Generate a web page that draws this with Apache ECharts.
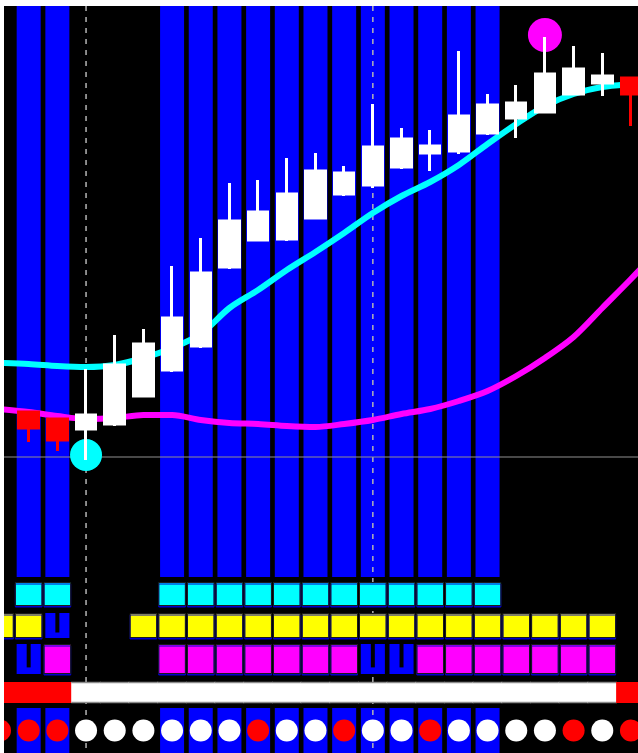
<!DOCTYPE html>
<html><head><meta charset="utf-8">
<script src="https://cdn.jsdelivr.net/npm/echarts@6/dist/echarts.min.js"></script>
<style>
html,body{margin:0;padding:0;background:#fff;width:638px;height:753px;overflow:hidden}
#c{position:absolute;left:4px;top:6px;width:634px;height:747px;background:#000}
</style></head><body><div id="c"></div>
<script>
// ---------- data ----------
const categories = ['01','02','03','04','05','06','07','08','09','10','11','12','13','14','15','16','17','18','19','20','21','22','23','24'];
// [open, close, low, high]
const candles = [
  ['-','-','-','-'],
  [165,149,135,165],
  [158,137,126,158],
  [148,162,117,208],
  [153,212,151,242],
  [181,233,180,248],
  [207,259,205,311],
  [231,304,229,339],
  [310,356,308,394],
  [337,365,336,397],
  [338,383,336,419],
  [359,406,358,424],
  [383,404,381,411],
  [392,430,389,473],
  [410,438,408,449],
  [424,431,406,447],
  [426,461,423,526],
  [444,472,442,483],
  [459,474,439,492],
  [465,503,464,540],
  [483,508,482,531],
  [494,501,481,524],
  [499,483,451,499],
  ['-','-','-','-']
];
const maFast = [214,213,211,210,212,219,229,243,269,287,307,325,344,364,381,395,412,433,453,471,483,490,493,495];
const maSlow = [168,165,161,158,159,162,162,157,154,153,151,150,153,157,163,168,176,186,201,219,240,269,298,328];
const bandCols = [0,1,1,0,0,0,1,1,1,1,1,1,1,1,1,1,1,1,0,0,0,0,0,0];
const cyanRow    = ['','C','C','','','','C','C','C','C','C','C','C','C','C','C','C','C','','','','','',''];
const yellowRow  = ['Y','Y','U','','','Y','Y','Y','Y','Y','Y','Y','Y','Y','Y','Y','Y','Y','Y','Y','Y','Y','',''];
const magentaRow = ['','U','M','','','','M','M','M','M','M','M','M','U','U','M','M','M','M','M','M','M','',''];
const trendRow   = ['R','R','R','W','W','W','W','W','W','W','W','W','W','W','W','W','W','W','W','W','W','W','R','R'];
const dotRow     = ['R','R','R','W','W','W','W','W','W','R','W','W','R','W','W','R','W','W','W','W','R','W','R',''];
const buySignal = [['04', 122]];
const sellSignal = [['20', 542]];
const levelLine = [120];
const cursorCols = [3, 13];
const mainMax = 571;

// ---------- layout ----------
const P = 28.68;
const N = categories.length;
const gridLeft = -4 - P / 2;
const gridWidth = N * P;
const gridDefs = [[0, 571], [576, 24], [607, 25], [638, 30], [676, 21], [702, 45], [0, 747]];
const grid = gridDefs.map(d => ({left: gridLeft, width: gridWidth, top: d[0], height: d[1], show: false, outerBoundsMode: 'none', containLabel: false}));
const xAxis = gridDefs.map((d, i) => ({type: 'category', gridIndex: i, data: categories, show: false, boundaryGap: true}));
const yAxis = gridDefs.map((d, i) => ({type: 'value', gridIndex: i, min: 0, max: i === 0 ? mainMax : 1, show: false, splitLine: {show: false}}));

const cellColors = ['#00ffff', '#ffff00', '#ff00ff'];
function rowSeries(row, gi) {
  const data = [];
  row.forEach((t, i) => { if (t) data.push([i, 'CYMU'.indexOf(t)]); });
  return {
    type: 'custom', xAxisIndex: gi, yAxisIndex: gi, z: 3, silent: true, data,
    renderItem: (params, api) => {
      const i = api.value(0), k = api.value(1);
      const a = api.coord([i, 1]), b = api.coord([i, 0]);
      const bw = api.size([1, 0])[0];
      const h = b[1] - a[1], cx = a[0];
      if (k === 3) {
        const w = bw * 0.84, nw = 4;
        return {type: 'group', children: [
          {type: 'rect', shape: {x: cx - w / 2, y: a[1], width: w, height: h}, style: {fill: '#0000ff'}},
          {type: 'rect', shape: {x: cx - nw / 2, y: a[1], width: nw, height: h * 0.78}, style: {fill: '#000000'}}
        ]};
      }
      const w = bw - 2;
      return {type: 'rect', shape: {x: cx - w / 2, y: a[1] + 0.5, width: w, height: h - 1},
        style: {fill: cellColors[k], stroke: '#1a1a1a', lineWidth: 1, shadowColor: '#0000cc', shadowOffsetY: 1.5, shadowBlur: 0}};
    }
  };
}

const series = [
  // blue bands
  {type: 'bar', xAxisIndex: 0, yAxisIndex: 0, z: 1, silent: true, barWidth: 24,
   data: bandCols.map(f => f ? mainMax : '-'), itemStyle: {color: '#0000ff'}},
  {type: 'bar', xAxisIndex: 5, yAxisIndex: 5, z: 1, silent: true, barWidth: 24,
   data: bandCols.map(f => f ? 1 : '-'), itemStyle: {color: '#0000ff'}},
  // dashed cursor lines
  {type: 'custom', xAxisIndex: 6, yAxisIndex: 6, z: 2, silent: true,
   data: cursorCols.map(c => [c, 0]),
   renderItem: (params, api) => {
     const i = api.value(0);
     const a = api.coord([i, 1]), b = api.coord([i, 0]);
     return {type: 'line', shape: {x1: a[0], y1: a[1], x2: a[0], y2: b[1]},
       style: {stroke: '#b4b4b4', lineWidth: 1.5, lineDash: [5, 6]}};
   }},
  // horizontal level
  {type: 'custom', xAxisIndex: 0, yAxisIndex: 0, z: 2, silent: true,
   data: levelLine.map(v => [0, v]),
   renderItem: (params, api) => {
     const y = api.coord([0, api.value(1)])[1];
     const cs = params.coordSys;
     return {type: 'line', shape: {x1: cs.x, y1: y, x2: cs.x + cs.width, y2: y},
       style: {stroke: '#909090', lineWidth: 1}};
   }},
  // moving averages
  {type: 'line', xAxisIndex: 0, yAxisIndex: 0, z: 3, data: maSlow, showSymbol: false, smooth: 0.3, silent: true,
   lineStyle: {color: '#ff00ff', width: 6}},
  {type: 'line', xAxisIndex: 0, yAxisIndex: 0, z: 3, data: maFast, showSymbol: false, smooth: 0.3, silent: true,
   lineStyle: {color: '#00ffff', width: 6}},
  // signals
  {type: 'scatter', xAxisIndex: 0, yAxisIndex: 0, z: 4, data: buySignal, symbolSize: 32, silent: true,
   itemStyle: {color: '#00ffff', opacity: 1}},
  {type: 'scatter', xAxisIndex: 0, yAxisIndex: 0, z: 4, data: sellSignal, symbolSize: 34, silent: true,
   itemStyle: {color: '#ff00ff', opacity: 1}},
  // candles
  {type: 'candlestick', xAxisIndex: 0, yAxisIndex: 0, z: 5, data: candles, barWidth: 20, barMaxWidth: 40, silent: true,
   itemStyle: {color: '#ffffff', color0: '#ff0000', borderColor: '#ffffff', borderColor0: '#ff0000', borderWidth: 3}},
  // indicator rows
  rowSeries(cyanRow, 1),
  rowSeries(yellowRow, 2),
  rowSeries(magentaRow, 3),
  {type: 'custom', xAxisIndex: 4, yAxisIndex: 4, z: 3, silent: true,
   data: trendRow.map((t, i) => [i, t === 'R' ? 1 : 0]),
   renderItem: (params, api) => {
     const i = api.value(0), red = api.value(1) === 1;
     const a = api.coord([i, 1]), b = api.coord([i, 0]);
     const bw = api.size([1, 0])[0];
     const x = a[0] - bw / 2 - 0.5, w = bw + 1, h = b[1] - a[1];
     if (red) return {type: 'rect', shape: {x, y: a[1], width: w, height: h}, style: {fill: '#ff0000'}};
     return {type: 'group', children: [
       {type: 'rect', shape: {x, y: a[1], width: w, height: h}, style: {fill: '#ffffff'}},
       {type: 'line', shape: {x1: x, y1: a[1] + 0.5, x2: x + w, y2: a[1] + 0.5}, style: {stroke: '#8c8c8c', lineWidth: 1.5}},
       {type: 'line', shape: {x1: x, y1: b[1] - 0.5, x2: x + w, y2: b[1] - 0.5}, style: {stroke: '#8c8c8c', lineWidth: 1.5}}
     ]};
   }},
  {type: 'scatter', xAxisIndex: 5, yAxisIndex: 5, z: 4, symbolSize: 22, silent: true,
   data: dotRow.map((t, i) => t ? {value: [i, 0.5], itemStyle: {color: t === 'R' ? '#ff0000' : '#ffffff', opacity: 1}} : null).filter(Boolean)}
];

const chart = echarts.init(document.getElementById('c'), null, {renderer: 'canvas', width: 634, height: 747});
chart.setOption({animation: false, backgroundColor: '#000000', grid, xAxis, yAxis, series, tooltip: {show: false}});
</script></body></html>
